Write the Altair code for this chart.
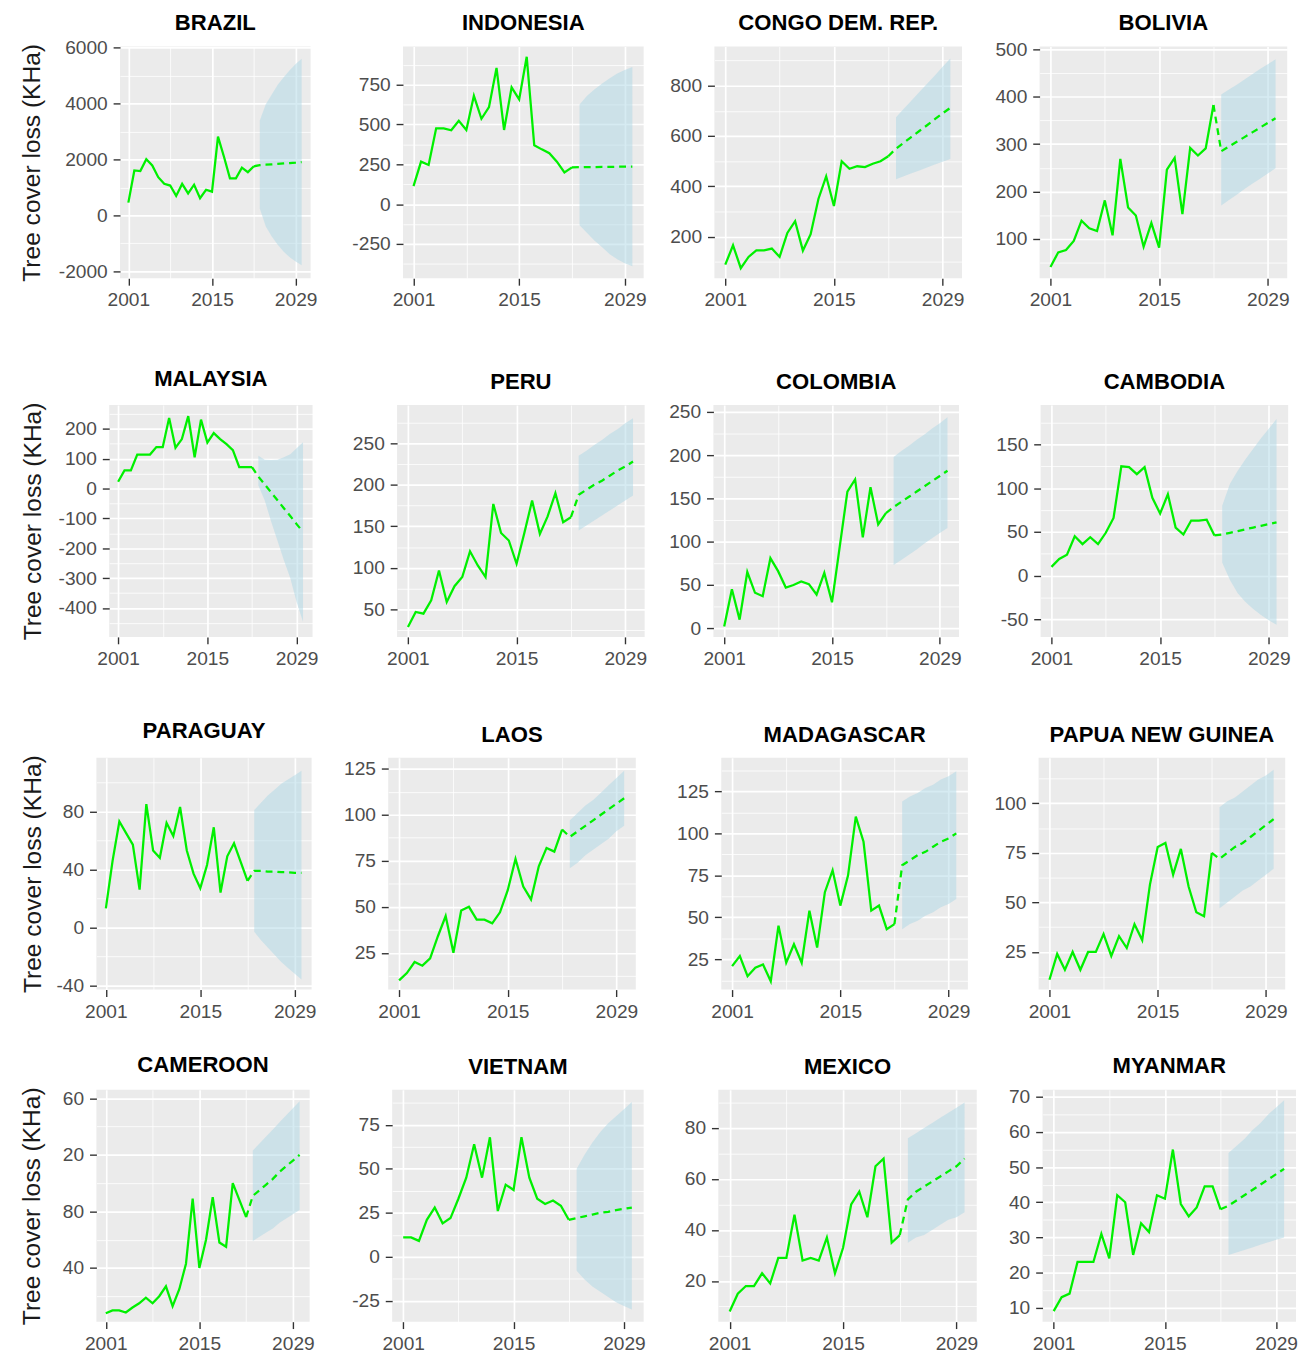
import json
import altair as alt
import pandas as pd

# ---------------- data ----------------
YEARS_OBS = list(range(2001, 2023))
YEARS_FC = list(range(2023, 2031))
X_MAJOR = [2001, 2015, 2029]
X_MINOR = [2008, 2022]
Y_TITLE = "Tree cover loss (KHa)"

BRAZIL_OBS = [460, 1610, 1590, 2010, 1790, 1370, 1130, 1070, 700, 1130, 790, 1100, 620, 920, 850, 2820, 2100, 1330, 1330, 1710, 1550, 1760]
BRAZIL_FC = [1800, 1815, 1830, 1845, 1860, 1875, 1890, 1910]
BRAZIL_LO = [250, -400, -750, -1050, -1300, -1500, -1650, -1780]
BRAZIL_HI = [3400, 3980, 4330, 4680, 4950, 5200, 5420, 5610]
BRAZIL_TICKS = [-2000, 0, 2000, 4000, 6000]

INDONESIA_OBS = [113, 267, 246, 476, 476, 464, 524, 466, 680, 536, 609, 855, 466, 733, 658, 925, 370, 344, 320, 267, 199, 231]
INDONESIA_FC = [232, 233, 233, 234, 234, 235, 235, 236]
INDONESIA_LO = [-132, -180, -229, -270, -314, -345, -370, -389]
INDONESIA_HI = [626, 680, 722, 758, 790, 820, 842, 861]
INDONESIA_TICKS = [-250, 0, 250, 500, 750]

CONGO_OBS = [89, 166, 75, 120, 146, 146, 153, 120, 215, 262, 145, 210, 350, 440, 322, 500, 470, 480, 477, 490, 500, 520]
CONGO_FC = [550, 573, 597, 620, 643, 667, 690, 712]
CONGO_LO = [428, 440, 452, 463, 475, 487, 498, 509]
CONGO_HI = [675, 708, 741, 775, 808, 841, 875, 908]
CONGO_TICKS = [200, 400, 600, 800]

BOLIVIA_OBS = [40, 71, 76, 95, 138, 122, 116, 181, 107, 269, 166, 149, 83, 133, 81, 246, 271, 152, 292, 276, 291, 383]
BOLIVIA_FC = [285, 295, 305, 315, 325, 335, 345, 355]
BOLIVIA_LO = [170, 182, 193, 205, 216, 227, 238, 249]
BOLIVIA_HI = [405, 416, 426, 437, 448, 459, 469, 480]
BOLIVIA_TICKS = [100, 200, 300, 400, 500]

MALAYSIA_OBS = [23, 61, 61, 114, 114, 114, 139, 139, 237, 137, 166, 243, 105, 231, 154, 186, 166, 149, 129, 72, 72, 72]
MALAYSIA_FC = [40, 14, -13, -39, -66, -92, -119, -145]
MALAYSIA_LO = [10, -40, -110, -175, -240, -300, -380, -446]
MALAYSIA_HI = [110, 97, 96, 97, 105, 115, 135, 155]
MALAYSIA_TICKS = [-400, -300, -200, -100, 0, 100, 200]

PERU_OBS = [29, 47, 45, 61, 97, 59, 78, 89, 120, 103, 89, 177, 142, 133, 105, 142, 181, 141, 162, 190, 155, 161]
PERU_FC = [188, 194, 200, 205, 211, 217, 222, 228]
PERU_LO = [145, 151, 157, 163, 169, 175, 181, 187]
PERU_HI = [235, 241, 248, 254, 261, 267, 274, 280]
PERU_TICKS = [50, 100, 150, 200, 250]

COLOMBIA_OBS = [2, 45, 10, 65, 41, 37, 81, 66, 47, 50, 54, 51, 39, 64, 30, 94, 158, 172, 105, 163, 120, 133]
COLOMBIA_FC = [140, 146, 152, 158, 164, 170, 176, 182]
COLOMBIA_LO = [73, 79, 85, 91, 98, 104, 110, 116]
COLOMBIA_HI = [198, 205, 211, 218, 224, 231, 237, 244]
COLOMBIA_TICKS = [0, 50, 100, 150, 200, 250]

CAMBODIA_OBS = [10, 19, 24, 45, 36, 44, 36, 49, 66, 125, 124, 116, 124, 89, 71, 93, 55, 47, 63, 63, 64, 46]
CAMBODIA_FC = [47, 49, 51, 53, 55, 57, 59, 61]
CAMBODIA_LO = [15, -5, -20, -30, -38, -45, -51, -56]
CAMBODIA_HI = [80, 105, 120, 133, 145, 157, 168, 179]
CAMBODIA_TICKS = [-50, 0, 50, 100, 150]

PARAGUAY_OBS = [13, 46, 73, 65, 57, 26, 85, 53, 48, 72, 63, 83, 53, 37, 27, 43, 69, 24, 49, 58, 45, 32]
PARAGUAY_FC = [39, 39, 38.5, 38.5, 38, 38, 37.5, 37.5]
PARAGUAY_LO = [-3, -9, -14, -19, -24, -28, -32, -36]
PARAGUAY_HI = [81, 86, 91, 95, 99, 102, 105, 108]
PARAGUAY_TICKS = [-40, 0, 40, 80]

LAOS_OBS = [10, 14, 20, 18, 22, 34, 45, 25, 48, 50, 43, 43, 41, 47, 59, 76, 61, 54, 72, 82, 80, 92]
LAOS_FC = [88, 91, 94, 97, 100, 103, 106, 109]
LAOS_LO = [71, 74, 78, 81, 84, 87, 91, 94]
LAOS_HI = [97, 101, 105, 108, 112, 116, 120, 124]
LAOS_TICKS = [25, 50, 75, 100, 125]

MADAGASCAR_OBS = [21, 27, 15, 20, 22, 12, 45, 23, 34, 23, 54, 32, 65, 78, 57, 75, 110, 95, 54, 57, 43, 46]
MADAGASCAR_FC = [81, 84, 87, 89, 92, 95, 97, 100]
MADAGASCAR_LO = [43, 46, 48, 51, 53, 56, 58, 61]
MADAGASCAR_HI = [119, 122, 124, 127, 129, 132, 134, 137]
MADAGASCAR_TICKS = [25, 50, 75, 100, 125]

PNG_OBS = [11, 24, 16, 25, 16, 25, 25, 34, 23, 33, 27, 39, 31, 59, 78, 80, 64, 77, 58, 45, 43, 75]
PNG_FC = [72, 75, 78, 80, 83, 86, 89, 92]
PNG_LO = [47, 50, 53, 56, 58, 61, 64, 67]
PNG_HI = [98, 101, 103, 106, 109, 112, 114, 117]
PNG_TICKS = [25, 50, 75, 100]

CAMEROON_OBS = [8, 10, 10, 8.5, 12, 15, 19, 15, 20, 27, 13, 25, 43, 89, 40, 60, 90, 58, 55, 100, 88, 76]
CAMEROON_FC = [91, 95, 99, 103, 108, 112, 116, 120]
CAMEROON_LO = [59, 62, 65, 68, 72, 75, 78, 81]
CAMEROON_HI = [123, 128, 133, 138, 143, 148, 153, 158]
CAMEROON_TICKS = [40, 80, 120, 160]

VIETNAM_OBS = [11, 11, 9, 21, 28, 19, 22, 33, 45, 64, 45, 68, 26, 41, 38, 68, 45, 33, 30, 32, 29, 21]
VIETNAM_FC = [22, 23, 24, 25, 25.5, 26.5, 27.3, 28]
VIETNAM_LO = [-8, -13, -17, -20, -23, -26, -28, -30]
VIETNAM_HI = [50, 58, 65, 71, 76, 80, 84, 88]
VIETNAM_TICKS = [-25, 0, 25, 50, 75]

MEXICO_OBS = [8, 15, 18, 18, 23, 19, 29, 29, 46, 28, 29, 28, 37, 23, 33, 50, 55, 45, 65, 68, 35, 38]
MEXICO_FC = [52, 55, 57, 59, 61, 63, 65, 68]
MEXICO_LO = [35, 37, 38, 40, 42, 44, 45, 47]
MEXICO_HI = [76, 78, 80, 82, 84, 86, 88, 90]
MEXICO_TICKS = [20, 40, 60, 80]

MYANMAR_OBS = [9, 13, 14, 23, 23, 23, 31, 24, 42, 40, 25, 34, 31.5, 42, 41, 55, 39.5, 36, 38.5, 44.5, 44.5, 38]
MYANMAR_FC = [39, 40.5, 42, 43.5, 45, 46.5, 48, 49.5]
MYANMAR_LO = [25, 25.7, 26.4, 27.1, 27.9, 28.6, 29.3, 30]
MYANMAR_HI = [54, 56, 58, 60.5, 62.5, 65, 67, 69]
MYANMAR_TICKS = [10, 20, 30, 40, 50, 60, 70]

# ---------------- layout / styling (not data) ----------------
X_DOMAIN = [1999.6, 2031.5]
PANEL_H = 236
GREEN = "#00F000"
BAND = "#ADD8E6"
FONT = "Liberation Sans"
LABEL_SIZE = 19.5
TITLE_GAP = 12

DEFAULT_LABEL = "'' + datum.value"
CAMEROON_LABEL = "'' + (datum.value % 100)"  # labels clipped in source: 60, 20, 80, 40


def cond(test, yes, no):
    return {"condition": {"test": test, "value": yes}, "value": no}


def x_axis():
    test = f"indexof({json.dumps(X_MAJOR)}, datum.value) >= 0"
    return alt.Axis(
        values=sorted(X_MAJOR + X_MINOR),
        labelExpr=f"{test} ? '' + datum.value : ''",
        tickOpacity=cond(test, 1, 0),
        gridWidth=cond(test, 1.7, 0.8),
        labelFlush=False,
        labelOverlap=False,
    )


def y_axis(major, domain, title, label_expr, title_pad):
    step = major[1] - major[0]
    minor = [m + step / 2 for m in [major[0] - step] + major]
    minor = [v for v in minor if domain[0] <= v <= domain[1]]
    vals = sorted(major + minor)
    test = f"indexof({json.dumps(major)}, datum.value) >= 0"
    return alt.Axis(
        values=vals,
        labelExpr=f"{test} ? {label_expr} : ''",
        tickOpacity=cond(test, 1, 0),
        gridWidth=cond(test, 1.7, 0.8),
        labelOverlap=False,
        title=title,
        titlePadding=title_pad,
    )


def panel(name, obs, fc, lo, hi, ticks, ydom, width, first_col, label_expr=DEFAULT_LABEL, title_pad=12):
    d_obs = pd.DataFrame({"year": YEARS_OBS, "value": obs})
    d_fc = pd.DataFrame({"year": [YEARS_OBS[-1]] + YEARS_FC, "value": [obs[-1]] + fc})
    d_band = pd.DataFrame({"year": YEARS_FC, "lo": lo, "hi": hi})
    title = Y_TITLE if first_col else None
    xs = alt.X("year:Q", scale=alt.Scale(domain=X_DOMAIN, nice=False, zero=False), axis=x_axis(), title=None)
    yscale = alt.Scale(domain=ydom, nice=False, zero=False)
    yax = y_axis(ticks, ydom, title, label_expr, title_pad)
    band = alt.Chart(d_band).mark_area(color=BAND, opacity=0.5).encode(
        x=xs, y=alt.Y("lo:Q", scale=yscale, axis=yax, title=title), y2="hi:Q"
    )
    line = alt.Chart(d_obs).mark_line(color=GREEN, strokeWidth=2.3).encode(
        x=xs, y=alt.Y("value:Q", scale=yscale, axis=yax, title=title)
    )
    dash = alt.Chart(d_fc).mark_line(color=GREEN, strokeWidth=2.3, strokeDash=[7, 5]).encode(
        x=xs, y=alt.Y("value:Q", scale=yscale, axis=yax, title=title)
    )
    # keep titles level when the top tick label pokes above the panel
    dist = (ydom[1] - max(ticks)) / (ydom[1] - ydom[0]) * PANEL_H
    overhang = max(0.0, LABEL_SIZE / 2 - dist)
    return alt.layer(band, line, dash).properties(
        width=width, height=PANEL_H, title=alt.TitleParams(text=name, offset=TITLE_GAP - overhang)
    )


def spacer():
    # invisible 1px column so that every row starts flush at its y-axis title
    return alt.Chart(pd.DataFrame({"v": [0]})).mark_point(opacity=0).encode(
        x=alt.X("v:Q", axis=None), y=alt.Y("v:Q", axis=None)
    ).properties(width=1, height=PANEL_H, view=alt.ViewBackground(fillOpacity=0, strokeOpacity=0))


def row(panels, gaps):
    a, b, c, d = panels
    body = alt.hconcat(a, alt.hconcat(b, alt.hconcat(c, d, spacing=gaps[2]), spacing=gaps[1]), spacing=gaps[0])
    return alt.hconcat(spacer(), body, spacing=0)


row1 = row([
    panel("BRAZIL", BRAZIL_OBS, BRAZIL_FC, BRAZIL_LO, BRAZIL_HI, BRAZIL_TICKS, [-2250, 6050], 194, True, title_pad=14),
    panel("INDONESIA", INDONESIA_OBS, INDONESIA_FC, INDONESIA_LO, INDONESIA_HI, INDONESIA_TICKS, [-465, 990], 245, False),
    panel("CONGO DEM. REP.", CONGO_OBS, CONGO_FC, CONGO_LO, CONGO_HI, CONGO_TICKS, [35, 956], 252, False),
    panel("BOLIVIA", BOLIVIA_OBS, BOLIVIA_FC, BOLIVIA_LO, BOLIVIA_HI, BOLIVIA_TICKS, [16, 507], 252, False),
], [34, 23, 31])

row2 = row([
    panel("MALAYSIA", MALAYSIA_OBS, MALAYSIA_FC, MALAYSIA_LO, MALAYSIA_HI, MALAYSIA_TICKS, [-497, 280], 207, True, title_pad=13),
    panel("PERU", PERU_OBS, PERU_FC, PERU_LO, PERU_HI, PERU_TICKS, [17, 296], 252, False),
    panel("COLOMBIA", COLOMBIA_OBS, COLOMBIA_FC, COLOMBIA_LO, COLOMBIA_HI, COLOMBIA_TICKS, [-10, 258], 250, False),
    panel("CAMBODIA", CAMBODIA_OBS, CAMBODIA_FC, CAMBODIA_LO, CAMBODIA_HI, CAMBODIA_TICKS, [-70, 195], 252, False),
], [34, 22, 34])

row3 = row([
    panel("PARAGUAY", PARAGUAY_OBS, PARAGUAY_FC, PARAGUAY_LO, PARAGUAY_HI, PARAGUAY_TICKS, [-43, 117], 219, True, title_pad=11),
    panel("LAOS", LAOS_OBS, LAOS_FC, LAOS_LO, LAOS_HI, LAOS_TICKS, [5, 131], 252, False),
    panel("MADAGASCAR", MADAGASCAR_OBS, MADAGASCAR_FC, MADAGASCAR_LO, MADAGASCAR_HI, MADAGASCAR_TICKS, [7, 145], 251, False),
    panel("PAPUA NEW GUINEA", PNG_OBS, PNG_FC, PNG_LO, PNG_HI, PNG_TICKS, [6, 123], 251, False),
], [27, 39, 23])

row4 = row([
    panel("CAMEROON", CAMEROON_OBS, CAMEROON_FC, CAMEROON_LO, CAMEROON_HI, CAMEROON_TICKS, [2, 166], 217, True, CAMEROON_LABEL, 18),
    panel("VIETNAM", VIETNAM_OBS, VIETNAM_FC, VIETNAM_LO, VIETNAM_HI, VIETNAM_TICKS, [-37, 95], 256, False),
    panel("MEXICO", MEXICO_OBS, MEXICO_FC, MEXICO_LO, MEXICO_HI, MEXICO_TICKS, [4, 95], 263, False),
    panel("MYANMAR", MYANMAR_OBS, MYANMAR_FC, MYANMAR_LO, MYANMAR_HI, MYANMAR_TICKS, [6, 72], 258, False),
], [37, 39, 30])

chart = alt.vconcat(
    row1,
    alt.vconcat(row2, alt.vconcat(row3, row4, spacing=33), spacing=53),
    spacing=59,
).properties(
    padding={"left": 5, "top": -8, "right": 0, "bottom": 2}
).configure_view(
    fill="#EBEBEB", stroke=None
).configure_axis(
    domain=False,
    gridColor="white",
    tickColor="#333333",
    tickSize=7,
    tickWidth=1.4,
    labelColor="#4D4D4D",
    labelFont=FONT,
    labelFontSize=LABEL_SIZE,
    labelPadding=6,
    titleFont=FONT,
    titleFontSize=25,
    titleFontWeight="normal",
    titleColor="#1A1A1A",
).configure_title(
    font=FONT,
    fontSize=22.5,
    fontWeight="bold",
    color="black",
    anchor="middle",
    frame="group",
)

chart.save("out.html", embed_options={"renderer": "svg", "actions": False})
